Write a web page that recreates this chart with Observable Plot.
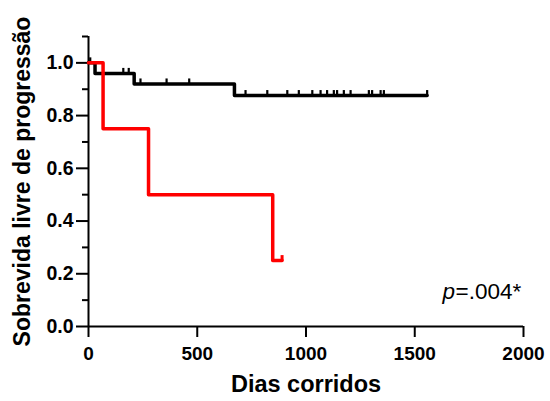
<!DOCTYPE html>
<html><head><meta charset="utf-8">
<script src="https://cdn.jsdelivr.net/npm/d3@7"></script>
<script src="https://cdn.jsdelivr.net/npm/@observablehq/plot@0.6"></script>
<style>body{margin:0;background:#fff} svg{display:block}</style>
</head><body><div id="chart"></div>
<script>
// Axis ticks
const xTicks = [0, 500, 1000, 1500, 2000];
const yTicks = [0, 0.2, 0.4, 0.6, 0.8, 1.0];
const yMinorTicks = [0.1, 0.3, 0.5, 0.7, 0.9, 1.1];

// Labels
const xLabel = "Dias corridos";
const yLabel = "Sobrevida livre de progressão";
const pItalic = "p";
const pRest = "=.004*";

// Black group (step function: time, survival)
const blackTime = [0, 30, 210, 671, 1557];
const blackSurv = [1, 0.96, 0.92, 0.876, 0.876];
const blackCensorTime = [8, 160, 185, 239, 359, 463, 722, 822, 914, 967, 1029, 1067, 1097, 1128, 1143, 1174, 1205, 1289, 1304, 1343, 1358, 1557];

// Red group
const redTime = [0, 67, 276, 847, 890];
const redSurv = [1, 0.75, 0.5, 0.25, 0.25];
const redCensorTime = [890];

function steps(times, surv) { return times.map((t, i) => ({t, s: surv[i]})); }
function censors(ct, times, surv) {
  return ct.map(c => {
    let s = surv[0];
    for (let i = 0; i < times.length; i++) if (times[i] <= c) s = surv[i];
    return {t: c, s};
  });
}
const censorSymbol = { draw(ctx, size) { ctx.moveTo(0, 0); ctx.lineTo(0, -5.5); } };

const black = steps(blackTime, blackSurv);
const red = steps(redTime, redSurv);
const blackC = censors(blackCensorTime, blackTime, blackSurv);
const redC = censors(redCensorTime, redTime, redSurv);

const font = "'Liberation Sans', Arial, Helvetica, sans-serif";

const chart = Plot.plot({
  width: 550, height: 401,
  marginLeft: 88, marginRight: 27, marginTop: 36, marginBottom: 75,
  x: {domain: [0, 2000]},
  y: {domain: [0, 1.1]},
  style: {fontFamily: font, color: "black", background: "white", overflow: "visible"},
  marks: [
    Plot.axisY({ticks: yMinorTicks, tickSize: 6, tickFormat: () => "", label: null, strokeWidth: 2}),
    Plot.axisY({ticks: yTicks, tickSize: 12, tickPadding: 3, tickFormat: d3.format(".1f"), fontSize: 19.5, fontWeight: "bold", label: null, strokeWidth: 2, ariaLabel: "y-axis major"}),
    Plot.axisX({ticks: xTicks, tickSize: 11, tickPadding: 9, tickFormat: d => String(d), fontSize: 19, fontWeight: "bold", label: null, strokeWidth: 2}),
    Plot.ruleX([0], {strokeWidth: 2}),
    Plot.ruleY([0], {strokeWidth: 2}),
    Plot.line(black, {x: "t", y: "s", curve: "step-after", stroke: "black", strokeWidth: 3.5}),
    Plot.dot(blackC, {x: "t", y: "s", symbol: censorSymbol, stroke: "black", fill: "none", strokeWidth: 2.2}),
    Plot.line(red, {x: "t", y: "s", curve: "step-after", stroke: "#ff0000", strokeWidth: 3.5}),
    Plot.dot(redC, {x: "t", y: "s", symbol: censorSymbol, stroke: "#ff0000", fill: "none", strokeWidth: 3}),
    Plot.text([yLabel], {frameAnchor: "left", rotate: -90, dx: -66, fontSize: 23, fontWeight: "bold", textAnchor: "middle", lineAnchor: "middle"}),
    Plot.text([xLabel], {frameAnchor: "bottom", dy: 58, fontSize: 23.5, fontWeight: "bold", textAnchor: "middle", lineAnchor: "middle"}),
    Plot.text([pItalic], {frameAnchor: "bottom-right", dx: -81, dy: -35, fontSize: 22.5, fontStyle: "italic", textAnchor: "start", lineAnchor: "middle"}),
    Plot.text([pRest], {frameAnchor: "bottom-right", dx: -68, dy: -35, fontSize: 22.5, textAnchor: "start", lineAnchor: "middle", ariaLabel: "pvalue"})
  ]
});
// widen a few labels slightly to match the reference glyph widths
chart.querySelectorAll('[aria-label="pvalue"] text').forEach(t => t.style.letterSpacing = "1.6px");
chart.querySelectorAll('[aria-label="y-axis major"] text').forEach(t => t.style.letterSpacing = "1px");
document.getElementById("chart").appendChild(chart);
</script>
</body></html>
